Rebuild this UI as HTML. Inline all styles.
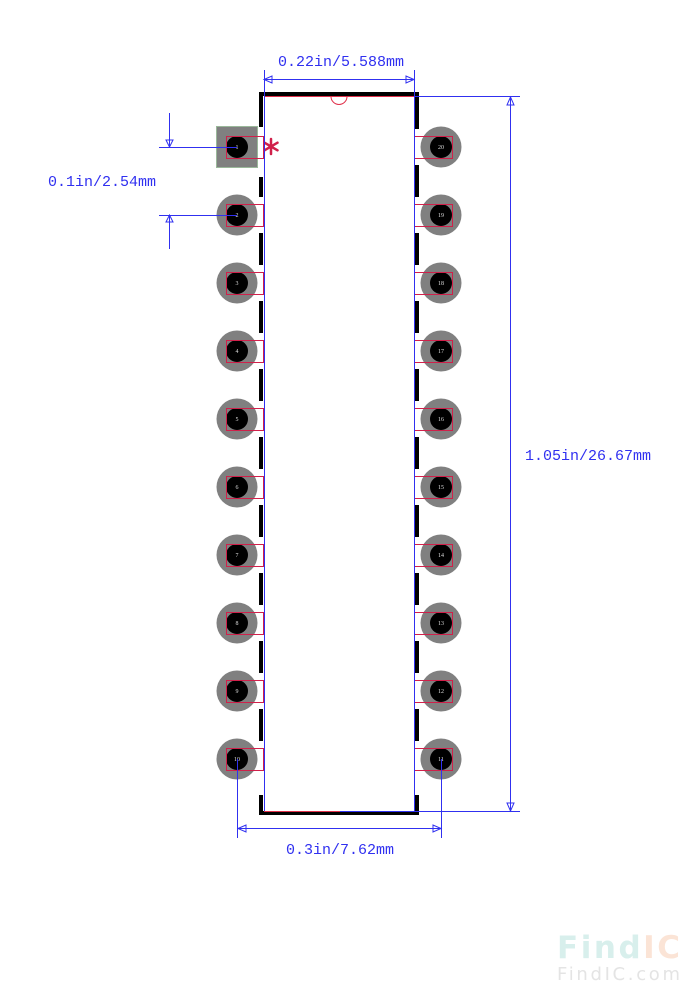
<!DOCTYPE html>
<html><head><meta charset="utf-8"><style>
html,body{margin:0;padding:0;background:#fff;}
svg{display:block;}
.m{font-family:"Liberation Mono",monospace;}
</style></head><body>
<svg width="699" height="1000" viewBox="0 0 699 1000" xmlns="http://www.w3.org/2000/svg">
<g id="pads">
<rect x="216.5" y="126.5" width="41" height="41" fill="#808080" stroke="#9ab89a" stroke-width="1"/>
<g fill="#808080">
<circle cx="237" cy="215" r="20.5"/><circle cx="237" cy="283" r="20.5"/><circle cx="237" cy="351" r="20.5"/><circle cx="237" cy="419" r="20.5"/><circle cx="237" cy="487" r="20.5"/><circle cx="237" cy="555" r="20.5"/><circle cx="237" cy="623" r="20.5"/><circle cx="237" cy="691" r="20.5"/><circle cx="237" cy="759" r="20.5"/>
<circle cx="441" cy="147" r="20.5"/><circle cx="441" cy="215" r="20.5"/><circle cx="441" cy="283" r="20.5"/><circle cx="441" cy="351" r="20.5"/><circle cx="441" cy="419" r="20.5"/><circle cx="441" cy="487" r="20.5"/><circle cx="441" cy="555" r="20.5"/><circle cx="441" cy="623" r="20.5"/><circle cx="441" cy="691" r="20.5"/><circle cx="441" cy="759" r="20.5"/>
</g>
<g fill="#000">
<circle cx="237" cy="147" r="11"/><circle cx="237" cy="215" r="11"/><circle cx="237" cy="283" r="11"/><circle cx="237" cy="351" r="11"/><circle cx="237" cy="419" r="11"/><circle cx="237" cy="487" r="11"/><circle cx="237" cy="555" r="11"/><circle cx="237" cy="623" r="11"/><circle cx="237" cy="691" r="11"/><circle cx="237" cy="759" r="11"/>
<circle cx="441" cy="147" r="11"/><circle cx="441" cy="215" r="11"/><circle cx="441" cy="283" r="11"/><circle cx="441" cy="351" r="11"/><circle cx="441" cy="419" r="11"/><circle cx="441" cy="487" r="11"/><circle cx="441" cy="555" r="11"/><circle cx="441" cy="623" r="11"/><circle cx="441" cy="691" r="11"/><circle cx="441" cy="759" r="11"/>
</g>
<g fill="none" stroke="#d0204a" stroke-width="1">
<rect x="226.5" y="136.5" width="37" height="22"/><rect x="226.5" y="204.5" width="37" height="22"/><rect x="226.5" y="272.5" width="37" height="22"/><rect x="226.5" y="340.5" width="37" height="22"/><rect x="226.5" y="408.5" width="37" height="22"/><rect x="226.5" y="476.5" width="37" height="22"/><rect x="226.5" y="544.5" width="37" height="22"/><rect x="226.5" y="612.5" width="37" height="22"/><rect x="226.5" y="680.5" width="37" height="22"/><rect x="226.5" y="748.5" width="37" height="22"/>
<rect x="414.5" y="136.5" width="38" height="22"/><rect x="414.5" y="204.5" width="38" height="22"/><rect x="414.5" y="272.5" width="38" height="22"/><rect x="414.5" y="340.5" width="38" height="22"/><rect x="414.5" y="408.5" width="38" height="22"/><rect x="414.5" y="476.5" width="38" height="22"/><rect x="414.5" y="544.5" width="38" height="22"/><rect x="414.5" y="612.5" width="38" height="22"/><rect x="414.5" y="680.5" width="38" height="22"/><rect x="414.5" y="748.5" width="38" height="22"/>
</g>
<g fill="#ddd" font-size="6" text-anchor="middle" style="font-family:'Liberation Serif',serif">
<text x="237" y="149">1</text><text x="237" y="217">2</text><text x="237" y="285">3</text><text x="237" y="353">4</text><text x="237" y="421">5</text><text x="237" y="489">6</text><text x="237" y="557">7</text><text x="237" y="625">8</text><text x="237" y="693">9</text><text x="237" y="761">10</text>
<text x="441" y="149">20</text><text x="441" y="217">19</text><text x="441" y="285">18</text><text x="441" y="353">17</text><text x="441" y="421">16</text><text x="441" y="489">15</text><text x="441" y="557">14</text><text x="441" y="625">13</text><text x="441" y="693">12</text><text x="441" y="761">11</text>
</g>
</g>
<g stroke="#000" stroke-width="4" fill="none">
<path d="M261 127 V94 H417 V129"/>
<path d="M261 795 V813 H417 V795"/>
<path d="M261 177 V197 M261 233 V265 M261 301 V333 M261 369 V401 M261 437 V469 M261 505 V537 M261 573 V605 M261 641 V673 M261 709 V741"/>
<path d="M417 165 V197 M417 233 V265 M417 301 V333 M417 369 V401 M417 437 V469 M417 505 V537 M417 573 V605 M417 641 V673 M417 709 V741"/>
</g>
<g stroke="#e0304a" stroke-width="1" fill="none">
<line x1="264" y1="96.5" x2="414" y2="96.5"/>
<line x1="264" y1="811.5" x2="340" y2="811.5"/>
<path d="M331 96.5 A8 8 0 0 0 347 96.5"/>
</g>
<g stroke="#d0204a" stroke-width="2.5" stroke-linecap="round">
<line x1="271" y1="139" x2="271" y2="154"/>
<line x1="264.5" y1="142.7" x2="277.5" y2="150.3"/>
<line x1="264.5" y1="150.3" x2="277.5" y2="142.7"/>
</g>
<g stroke="#3030f0" stroke-width="1" fill="none">
<line x1="264.5" y1="70" x2="264.5" y2="811"/>
<line x1="414.5" y1="70" x2="414.5" y2="811"/>
<line x1="264" y1="79.5" x2="414" y2="79.5"/>
<path d="M264 79.5 L272 76 L272 83 Z M414 79.5 L406 76 L406 83 Z"/>
<line x1="414" y1="96.5" x2="520" y2="96.5"/>
<line x1="340" y1="811.5" x2="520" y2="811.5"/>
<line x1="510.5" y1="96" x2="510.5" y2="811"/>
<path d="M510.5 97 L507 105 L514 105 Z M510.5 811 L507 803 L514 803 Z"/>
<line x1="159" y1="147.5" x2="237" y2="147.5"/>
<line x1="159" y1="215.5" x2="237" y2="215.5"/>
<line x1="169.5" y1="113" x2="169.5" y2="147"/>
<line x1="169.5" y1="215" x2="169.5" y2="249"/>
<path d="M169.5 147 L166 140 L173 140 Z M169.5 215 L166 222 L173 222 Z"/>
<line x1="237.5" y1="759" x2="237.5" y2="838"/>
<line x1="441.5" y1="759" x2="441.5" y2="838"/>
<line x1="237" y1="828.5" x2="441" y2="828.5"/>
<path d="M238 828.5 L246 825 L246 832 Z M441 828.5 L433 825 L433 832 Z"/>
</g>
<g fill="#3030f0" font-size="15" class="m">
<text x="278" y="66">0.22in/5.588mm</text>
<text x="525" y="460">1.05in/26.67mm</text>
<text x="48" y="186">0.1in/2.54mm</text>
<text x="286" y="854">0.3in/7.62mm</text>
</g>
<text x="557" y="958" style="font-family:'DejaVu Sans',sans-serif;font-weight:bold;font-size:31px" fill="#d8efec" textLength="123">Find<tspan fill="#fbe4d6">IC</tspan></text>
<text x="557" y="980" style="font-family:'DejaVu Sans',sans-serif;font-size:18px" fill="#e4e4e4" textLength="123">FindIC.com</text>
</svg>
</body></html>
